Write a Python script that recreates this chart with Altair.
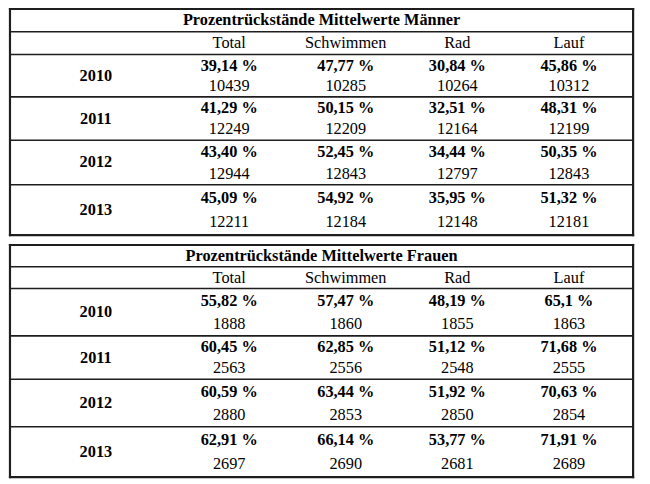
import altair as alt
import pandas as pd

# ---- data ----
titles = ["Prozentrückstände Mittelwerte Männer", "Prozentrückstände Mittelwerte Frauen"]
years = ["2010", "2011", "2012", "2013"]
disciplines = ["Total", "Schwimmen", "Rad", "Lauf"]

men_pct = [
    ["39,14 %", "47,77 %", "30,84 %", "45,86 %"],
    ["41,29 %", "50,15 %", "32,51 %", "48,31 %"],
    ["43,40 %", "52,45 %", "34,44 %", "50,35 %"],
    ["45,09 %", "54,92 %", "35,95 %", "51,32 %"],
]
men_n = [
    [10439, 10285, 10264, 10312],
    [12249, 12209, 12164, 12199],
    [12944, 12843, 12797, 12843],
    [12211, 12184, 12148, 12181],
]
women_pct = [
    ["55,82 %", "57,47 %", "48,19 %", "65,1 %"],
    ["60,45 %", "62,85 %", "51,12 %", "71,68 %"],
    ["60,59 %", "63,44 %", "51,92 %", "70,63 %"],
    ["62,91 %", "66,14 %", "53,77 %", "71,91 %"],
]
women_n = [
    [1888, 1860, 1855, 1863],
    [2563, 2556, 2548, 2555],
    [2880, 2853, 2850, 2854],
    [2697, 2690, 2681, 2689],
]

# ---- layout (pixel positions in the page) ----
TABLE_LINES = [[6, 29, 52, 95, 139, 184, 235], [245, 267, 289, 337, 381, 429, 480]]
X_LEFT, X_RIGHT = 10, 641
YEAR_X = 97
COL_X = [232, 350, 463, 576]
FONT = "Liberation Serif"
FS = 16.5

bold_rows, normal_rows, line_rows = [], [], []
tables = [(titles[0], men_pct, men_n), (titles[1], women_pct, women_n)]
for t, (title, pct, n) in enumerate(tables):
    L = TABLE_LINES[t]
    bold_rows.append(dict(x=(X_LEFT + X_RIGHT) / 2, y=(L[0] + L[1]) / 2, text=title))
    for j, d in enumerate(disciplines):
        normal_rows.append(dict(x=COL_X[j], y=(L[1] + L[2]) / 2, text=d))
    for i, yr in enumerate(years):
        top, bot = L[2 + i], L[3 + i]
        h = bot - top
        bold_rows.append(dict(x=YEAR_X, y=(top + bot) / 2, text=yr))
        for j in range(len(disciplines)):
            bold_rows.append(dict(x=COL_X[j], y=top + 0.265 * h, text=pct[i][j]))
            normal_rows.append(dict(x=COL_X[j], y=top + 0.75 * h, text=str(n[i][j])))
    for k, yy in enumerate(L):
        w = 2.2 if k in (0, len(L) - 1) else 1.6
        line_rows.append(dict(x=X_LEFT, x2=X_RIGHT, y=yy, y2=yy, w=w))
    line_rows.append(dict(x=X_LEFT, x2=X_LEFT, y=L[0], y2=L[-1], w=2.2))
    line_rows.append(dict(x=X_RIGHT, x2=X_RIGHT, y=L[0], y2=L[-1], w=2.2))

W, H = 642, 476
xs = alt.Scale(domain=[8, 8 + W], range=[0, W])
ys = alt.Scale(domain=[8, 8 + H], range=[0, H])

lines = alt.Chart(pd.DataFrame(line_rows)).mark_rule(color="#1e1e1e", strokeCap="square").encode(
    x=alt.X("x:Q", scale=xs, axis=None),
    x2="x2:Q",
    y=alt.Y("y:Q", scale=ys, axis=None),
    y2="y2:Q",
    strokeWidth=alt.StrokeWidth("w:Q", scale=None),
)

bold = alt.Chart(pd.DataFrame(bold_rows)).mark_text(
    font=FONT, fontSize=FS, fontWeight="bold", color="#000", align="center", baseline="middle"
).encode(
    x=alt.X("x:Q", scale=xs, axis=None),
    y=alt.Y("y:Q", scale=ys, axis=None),
    text="text:N",
)

normal = alt.Chart(pd.DataFrame(normal_rows)).mark_text(
    font=FONT, fontSize=FS, color="#000", align="center", baseline="middle"
).encode(
    x=alt.X("x:Q", scale=xs, axis=None),
    y=alt.Y("y:Q", scale=ys, axis=None),
    text="text:N",
)

chart = alt.layer(lines, bold, normal).properties(
    width=W, height=H, padding=0, autosize=alt.AutoSizeParams(type="none"), background="white"
).configure_view(strokeWidth=0)

chart.save("out.html", embed_options={"renderer": "svg", "actions": False})
